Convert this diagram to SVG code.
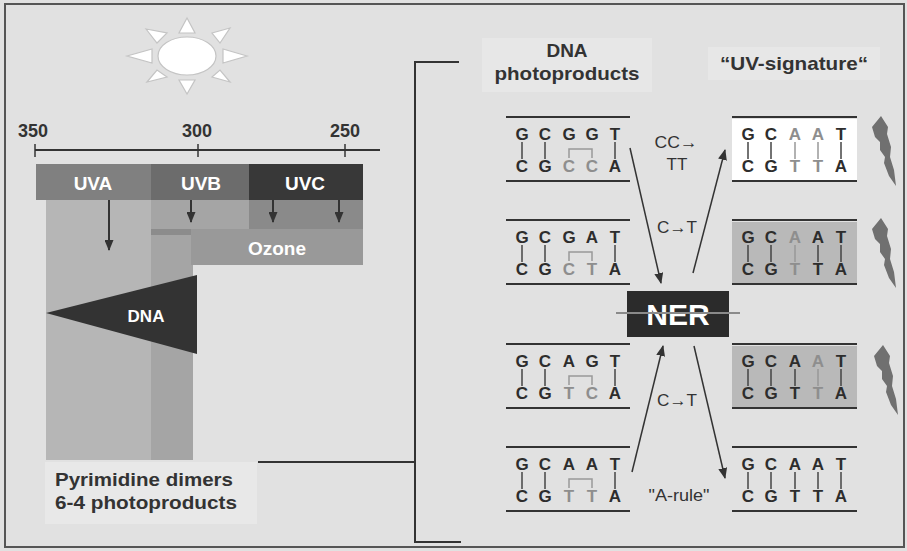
<svg xmlns="http://www.w3.org/2000/svg" width="907" height="551" viewBox="0 0 907 551">
  <style>
    .lbl { font-family: "Liberation Sans", Arial, sans-serif; font-weight: bold; fill: #333; }
    .wht { font-family: "Liberation Sans", Arial, sans-serif; font-weight: bold; fill: #fff; text-anchor: middle; }
    .reg { font-family: "Liberation Sans", Arial, sans-serif; fill: #333; font-size: 17px; text-anchor: middle; }
    .b { font-family: "Liberation Sans", Arial, sans-serif; font-weight: bold; font-size: 17px; fill: #2d2d2d; text-anchor: middle; }
    .g { font-family: "Liberation Sans", Arial, sans-serif; font-weight: bold; font-size: 17px; fill: #8e8e8e; text-anchor: middle; }
    .strand { stroke: #333; stroke-width: 2; }
    .bond { stroke: #444; stroke-width: 1.5; }
    .gbond { stroke: #999; stroke-width: 1.5; fill: none; }
    .conn { stroke: #333; stroke-width: 1.5; fill: none; }
    .bolt { fill: #707070; }
  </style>
  <defs>
    <marker id="head" markerUnits="userSpaceOnUse" markerWidth="11" markerHeight="9" refX="10" refY="4.5" orient="auto">
      <path d="M0,0 L11,4.5 L0,9 Z" fill="#333"/>
    </marker>
    <path id="boltShape" d="M1,0 L8,11 L7,18 L11,31 L10,41 L14,54 L16,70 L9,60 L4,47 L5,41 L0,34 L0,26 L-5,21 L-8,11 Z"/>
  </defs>

  <!-- page and frame -->
  <rect width="907" height="551" fill="#e1e1e1"/>
  <rect x="5" y="4" width="899" height="543" fill="none" stroke="#555" stroke-width="2"/>

  <!-- sun -->
  <g id="sun" fill="#fff" stroke="#c4c4c4" stroke-width="1.2">
    <polygon points="187,18 179,33 195,33"/>
    <polygon points="187,94 179,80 195,80"/>
    <polygon points="127,56 152,49 152,63"/>
    <polygon points="247,56 223,49 223,63"/>
    <polygon points="146,29 167,33 157,43"/>
    <polygon points="230,28 212,33 220,43"/>
    <polygon points="147,82 157,70 167,77"/>
    <polygon points="230,82 220,70 212,77"/>
    <ellipse cx="187" cy="56" rx="29" ry="19"/>
  </g>

  <!-- wavelength scale -->
  <g id="scale">
    <line x1="35" y1="150" x2="380" y2="150" stroke="#333" stroke-width="2"/>
    <line x1="35" y1="144" x2="35" y2="157" stroke="#333" stroke-width="1.5"/>
    <line x1="198" y1="144" x2="198" y2="157" stroke="#333" stroke-width="1.5"/>
    <line x1="345" y1="144" x2="345" y2="157" stroke="#333" stroke-width="1.5"/>
    <text class="lbl" x="33" y="137" font-size="18" text-anchor="middle">350</text>
    <text class="lbl" x="197" y="137" font-size="18" text-anchor="middle">300</text>
    <text class="lbl" x="345" y="137" font-size="18" text-anchor="middle">250</text>
  </g>

  <!-- penetration columns -->
  <g id="uva">
    <rect x="46" y="200" width="105" height="260" fill="#b6b6b6"/>
    <rect x="36" y="164" width="115" height="36" fill="#808080"/>
    <text class="wht" x="93" y="190" font-size="19">UVA</text>
  </g>
  <g id="uvb">
    <rect x="151" y="200" width="98" height="29" fill="#a5a5a5"/>
    <rect x="151" y="229" width="42" height="231" fill="#a5a5a5"/>
    <rect x="151" y="229" width="40" height="6" fill="#8c8c8c"/>
    <rect x="151" y="164" width="98" height="36" fill="#6c6c6c"/>
    <text class="wht" x="201" y="190" font-size="19">UVB</text>
  </g>
  <g id="uvc">
    <rect x="249" y="200" width="114" height="29" fill="#8a8a8a"/>
    <rect x="249" y="164" width="114" height="36" fill="#383838"/>
    <text class="wht" x="305" y="190" font-size="19">UVC</text>
  </g>
  <g id="ozone">
    <rect x="191" y="229" width="172" height="36" fill="#999"/>
    <text class="wht" x="277" y="255" font-size="19">Ozone</text>
  </g>
  <g id="uv-arrows" stroke="#333" stroke-width="2">
    <line x1="109" y1="200" x2="109" y2="250" marker-end="url(#head)"/>
    <line x1="191" y1="200" x2="191" y2="222" marker-end="url(#head)"/>
    <line x1="273" y1="200" x2="273" y2="222" marker-end="url(#head)"/>
    <line x1="339" y1="200" x2="339" y2="222" marker-end="url(#head)"/>
  </g>
  <g id="dna-target">
    <polygon points="46,313 197,275 197,354" fill="#333"/>
    <text class="wht" x="146" y="322" font-size="17">DNA</text>
  </g>

  <!-- lesion label -->
  <g id="lesions">
    <rect x="45" y="462" width="212" height="62" fill="#e8e8e8"/>
    <text class="lbl" x="55" y="486" font-size="19" textLength="178" lengthAdjust="spacingAndGlyphs">Pyrimidine dimers</text>
    <text class="lbl" x="55" y="509" font-size="19" textLength="182" lengthAdjust="spacingAndGlyphs">6-4 photoproducts</text>
  </g>

  <!-- column headers -->
  <g id="hdr-photoproducts">
    <rect x="482" y="38" width="170" height="54" fill="#e7e7e7"/>
    <text class="lbl" x="567" y="57" font-size="19" text-anchor="middle">DNA</text>
    <text class="lbl" x="567" y="80" font-size="19" text-anchor="middle" textLength="145" lengthAdjust="spacingAndGlyphs">photoproducts</text>
  </g>
  <g id="hdr-signature">
    <rect x="708" y="47" width="172" height="33" fill="#e7e7e7"/>
    <text class="lbl" x="794" y="70" font-size="19" text-anchor="middle" textLength="148" lengthAdjust="spacingAndGlyphs">“UV-signature“</text>
  </g>

  <!-- connectors -->
  <g id="connectors">
    <polyline points="258,462 415,462" class="strand" fill="none"/>
    <polyline points="459,62 415,62 415,542 461,542" class="strand" fill="none"/>
    <line class="conn" x1="630" y1="148" x2="661" y2="283" marker-end="url(#head)"/>
    <line class="conn" x1="693" y1="273" x2="725" y2="150" marker-end="url(#head)"/>
    <line class="conn" x1="632" y1="472" x2="663" y2="346" marker-end="url(#head)"/>
    <line class="conn" x1="694" y1="346" x2="725" y2="478" marker-end="url(#head)"/>
    <text class="reg" x="676" y="148" textLength="43" lengthAdjust="spacingAndGlyphs">CC→</text>
    <text class="reg" x="677" y="170">TT</text>
    <text class="reg" x="677" y="233" textLength="40" lengthAdjust="spacingAndGlyphs">C→T</text>
    <text class="reg" x="677" y="406" textLength="40" lengthAdjust="spacingAndGlyphs">C→T</text>
    <text class="reg" x="679" y="501" textLength="61" lengthAdjust="spacingAndGlyphs">"A-rule"</text>
  </g>

  <!-- NER -->
  <g id="ner">
    <rect x="627" y="291" width="102" height="46" fill="#2b2b2b"/>
    <text class="wht" x="678" y="325" font-size="30">NER</text>
    <line x1="616" y1="313" x2="740" y2="313" stroke="#8a8a8a" stroke-width="2"/>
  </g>

  <!-- photoproduct duplexes -->
  <g id="pp-cc" transform="translate(0,117)">
    <line class="strand" x1="506" y1="0" x2="630" y2="0"/>
    <line class="strand" x1="506" y1="64" x2="630" y2="64"/>
    <line class="bond" x1="522" y1="25" x2="522" y2="42"/>
    <line class="bond" x1="545" y1="25" x2="545" y2="42"/>
    <line class="bond" x1="615" y1="25" x2="615" y2="42"/>
    <path class="gbond" d="M569,41 V32 H592 V41"/>
    <text class="b" x="522" y="23">G</text><text class="b" x="545" y="23">C</text><text class="b" x="569" y="23">G</text><text class="b" x="592" y="23">G</text><text class="b" x="615" y="23">T</text>
    <text class="b" x="522" y="55">C</text><text class="b" x="545" y="55">G</text><text class="g" x="569" y="55">C</text><text class="g" x="592" y="55">C</text><text class="b" x="615" y="55">A</text>
  </g>
  <g id="pp-ct" transform="translate(0,220)">
    <line class="strand" x1="506" y1="0" x2="630" y2="0"/>
    <line class="strand" x1="506" y1="64" x2="630" y2="64"/>
    <line class="bond" x1="522" y1="25" x2="522" y2="42"/>
    <line class="bond" x1="545" y1="25" x2="545" y2="42"/>
    <line class="bond" x1="615" y1="25" x2="615" y2="42"/>
    <path class="gbond" d="M569,41 V32 H592 V41"/>
    <text class="b" x="522" y="23">G</text><text class="b" x="545" y="23">C</text><text class="b" x="569" y="23">G</text><text class="b" x="592" y="23">A</text><text class="b" x="615" y="23">T</text>
    <text class="b" x="522" y="55">C</text><text class="b" x="545" y="55">G</text><text class="g" x="569" y="55">C</text><text class="g" x="592" y="55">T</text><text class="b" x="615" y="55">A</text>
  </g>
  <g id="pp-tc" transform="translate(0,344)">
    <line class="strand" x1="506" y1="0" x2="630" y2="0"/>
    <line class="strand" x1="506" y1="64" x2="630" y2="64"/>
    <line class="bond" x1="522" y1="25" x2="522" y2="42"/>
    <line class="bond" x1="545" y1="25" x2="545" y2="42"/>
    <line class="bond" x1="615" y1="25" x2="615" y2="42"/>
    <path class="gbond" d="M569,41 V32 H592 V41"/>
    <text class="b" x="522" y="23">G</text><text class="b" x="545" y="23">C</text><text class="b" x="569" y="23">A</text><text class="b" x="592" y="23">G</text><text class="b" x="615" y="23">T</text>
    <text class="b" x="522" y="55">C</text><text class="b" x="545" y="55">G</text><text class="g" x="569" y="55">T</text><text class="g" x="592" y="55">C</text><text class="b" x="615" y="55">A</text>
  </g>
  <g id="pp-tt" transform="translate(0,447)">
    <line class="strand" x1="506" y1="0" x2="630" y2="0"/>
    <line class="strand" x1="506" y1="64" x2="630" y2="64"/>
    <line class="bond" x1="522" y1="25" x2="522" y2="42"/>
    <line class="bond" x1="545" y1="25" x2="545" y2="42"/>
    <line class="bond" x1="615" y1="25" x2="615" y2="42"/>
    <path class="gbond" d="M569,41 V32 H592 V41"/>
    <text class="b" x="522" y="23">G</text><text class="b" x="545" y="23">C</text><text class="b" x="569" y="23">A</text><text class="b" x="592" y="23">A</text><text class="b" x="615" y="23">T</text>
    <text class="b" x="522" y="55">C</text><text class="b" x="545" y="55">G</text><text class="g" x="569" y="55">T</text><text class="g" x="592" y="55">T</text><text class="b" x="615" y="55">A</text>
  </g>

  <!-- mutated / repaired duplexes -->
  <g id="sig-cc-tt" transform="translate(0,117)">
    <rect x="732" y="2" width="125" height="61" fill="#fff"/>
    <line class="strand" x1="732" y1="0" x2="857" y2="0"/>
    <line class="strand" x1="732" y1="64" x2="857" y2="64"/>
    <line class="bond" x1="748" y1="25" x2="748" y2="42"/>
    <line class="bond" x1="771" y1="25" x2="771" y2="42"/>
    <line class="gbond" x1="795" y1="25" x2="795" y2="42"/>
    <line class="gbond" x1="818" y1="25" x2="818" y2="42"/>
    <line class="bond" x1="841" y1="25" x2="841" y2="42"/>
    <text class="b" x="748" y="23">G</text><text class="b" x="771" y="23">C</text><text class="g" x="795" y="23">A</text><text class="g" x="818" y="23">A</text><text class="b" x="841" y="23">T</text>
    <text class="b" x="748" y="55">C</text><text class="b" x="771" y="55">G</text><text class="g" x="795" y="55">T</text><text class="g" x="818" y="55">T</text><text class="b" x="841" y="55">A</text>
  </g>
  <g id="sig-ct-1" transform="translate(0,220)">
    <rect x="732" y="2" width="125" height="61" fill="#b9b9b9"/>
    <line class="strand" x1="732" y1="0" x2="857" y2="0"/>
    <line class="strand" x1="732" y1="64" x2="857" y2="64"/>
    <line class="bond" x1="748" y1="25" x2="748" y2="42"/>
    <line class="bond" x1="771" y1="25" x2="771" y2="42"/>
    <line class="gbond" x1="795" y1="25" x2="795" y2="42"/>
    <line class="bond" x1="818" y1="25" x2="818" y2="42"/>
    <line class="bond" x1="841" y1="25" x2="841" y2="42"/>
    <text class="b" x="748" y="23">G</text><text class="b" x="771" y="23">C</text><text class="g" x="795" y="23">A</text><text class="b" x="818" y="23">A</text><text class="b" x="841" y="23">T</text>
    <text class="b" x="748" y="55">C</text><text class="b" x="771" y="55">G</text><text class="g" x="795" y="55">T</text><text class="b" x="818" y="55">T</text><text class="b" x="841" y="55">A</text>
  </g>
  <g id="sig-ct-2" transform="translate(0,344)">
    <rect x="732" y="2" width="125" height="61" fill="#b9b9b9"/>
    <line class="strand" x1="732" y1="0" x2="857" y2="0"/>
    <line class="strand" x1="732" y1="64" x2="857" y2="64"/>
    <line class="bond" x1="748" y1="25" x2="748" y2="42"/>
    <line class="bond" x1="771" y1="25" x2="771" y2="42"/>
    <line class="bond" x1="795" y1="25" x2="795" y2="42"/>
    <line class="gbond" x1="818" y1="25" x2="818" y2="42"/>
    <line class="bond" x1="841" y1="25" x2="841" y2="42"/>
    <text class="b" x="748" y="23">G</text><text class="b" x="771" y="23">C</text><text class="b" x="795" y="23">A</text><text class="g" x="818" y="23">A</text><text class="b" x="841" y="23">T</text>
    <text class="b" x="748" y="55">C</text><text class="b" x="771" y="55">G</text><text class="b" x="795" y="55">T</text><text class="g" x="818" y="55">T</text><text class="b" x="841" y="55">A</text>
  </g>
  <g id="sig-a-rule" transform="translate(0,447)">
    <line class="strand" x1="732" y1="0" x2="857" y2="0"/>
    <line class="strand" x1="732" y1="64" x2="857" y2="64"/>
    <line class="bond" x1="748" y1="25" x2="748" y2="42"/>
    <line class="bond" x1="771" y1="25" x2="771" y2="42"/>
    <line class="bond" x1="795" y1="25" x2="795" y2="42"/>
    <line class="bond" x1="818" y1="25" x2="818" y2="42"/>
    <line class="bond" x1="841" y1="25" x2="841" y2="42"/>
    <text class="b" x="748" y="23">G</text><text class="b" x="771" y="23">C</text><text class="b" x="795" y="23">A</text><text class="b" x="818" y="23">A</text><text class="b" x="841" y="23">T</text>
    <text class="b" x="748" y="55">C</text><text class="b" x="771" y="55">G</text><text class="b" x="795" y="55">T</text><text class="b" x="818" y="55">T</text><text class="b" x="841" y="55">A</text>
  </g>

  <!-- lightning bolts -->
  <g id="bolts" class="bolt">
    <use href="#boltShape" transform="translate(880,116)"/>
    <use href="#boltShape" transform="translate(880,218)"/>
    <use href="#boltShape" transform="translate(882,345)"/>
  </g>
</svg>
